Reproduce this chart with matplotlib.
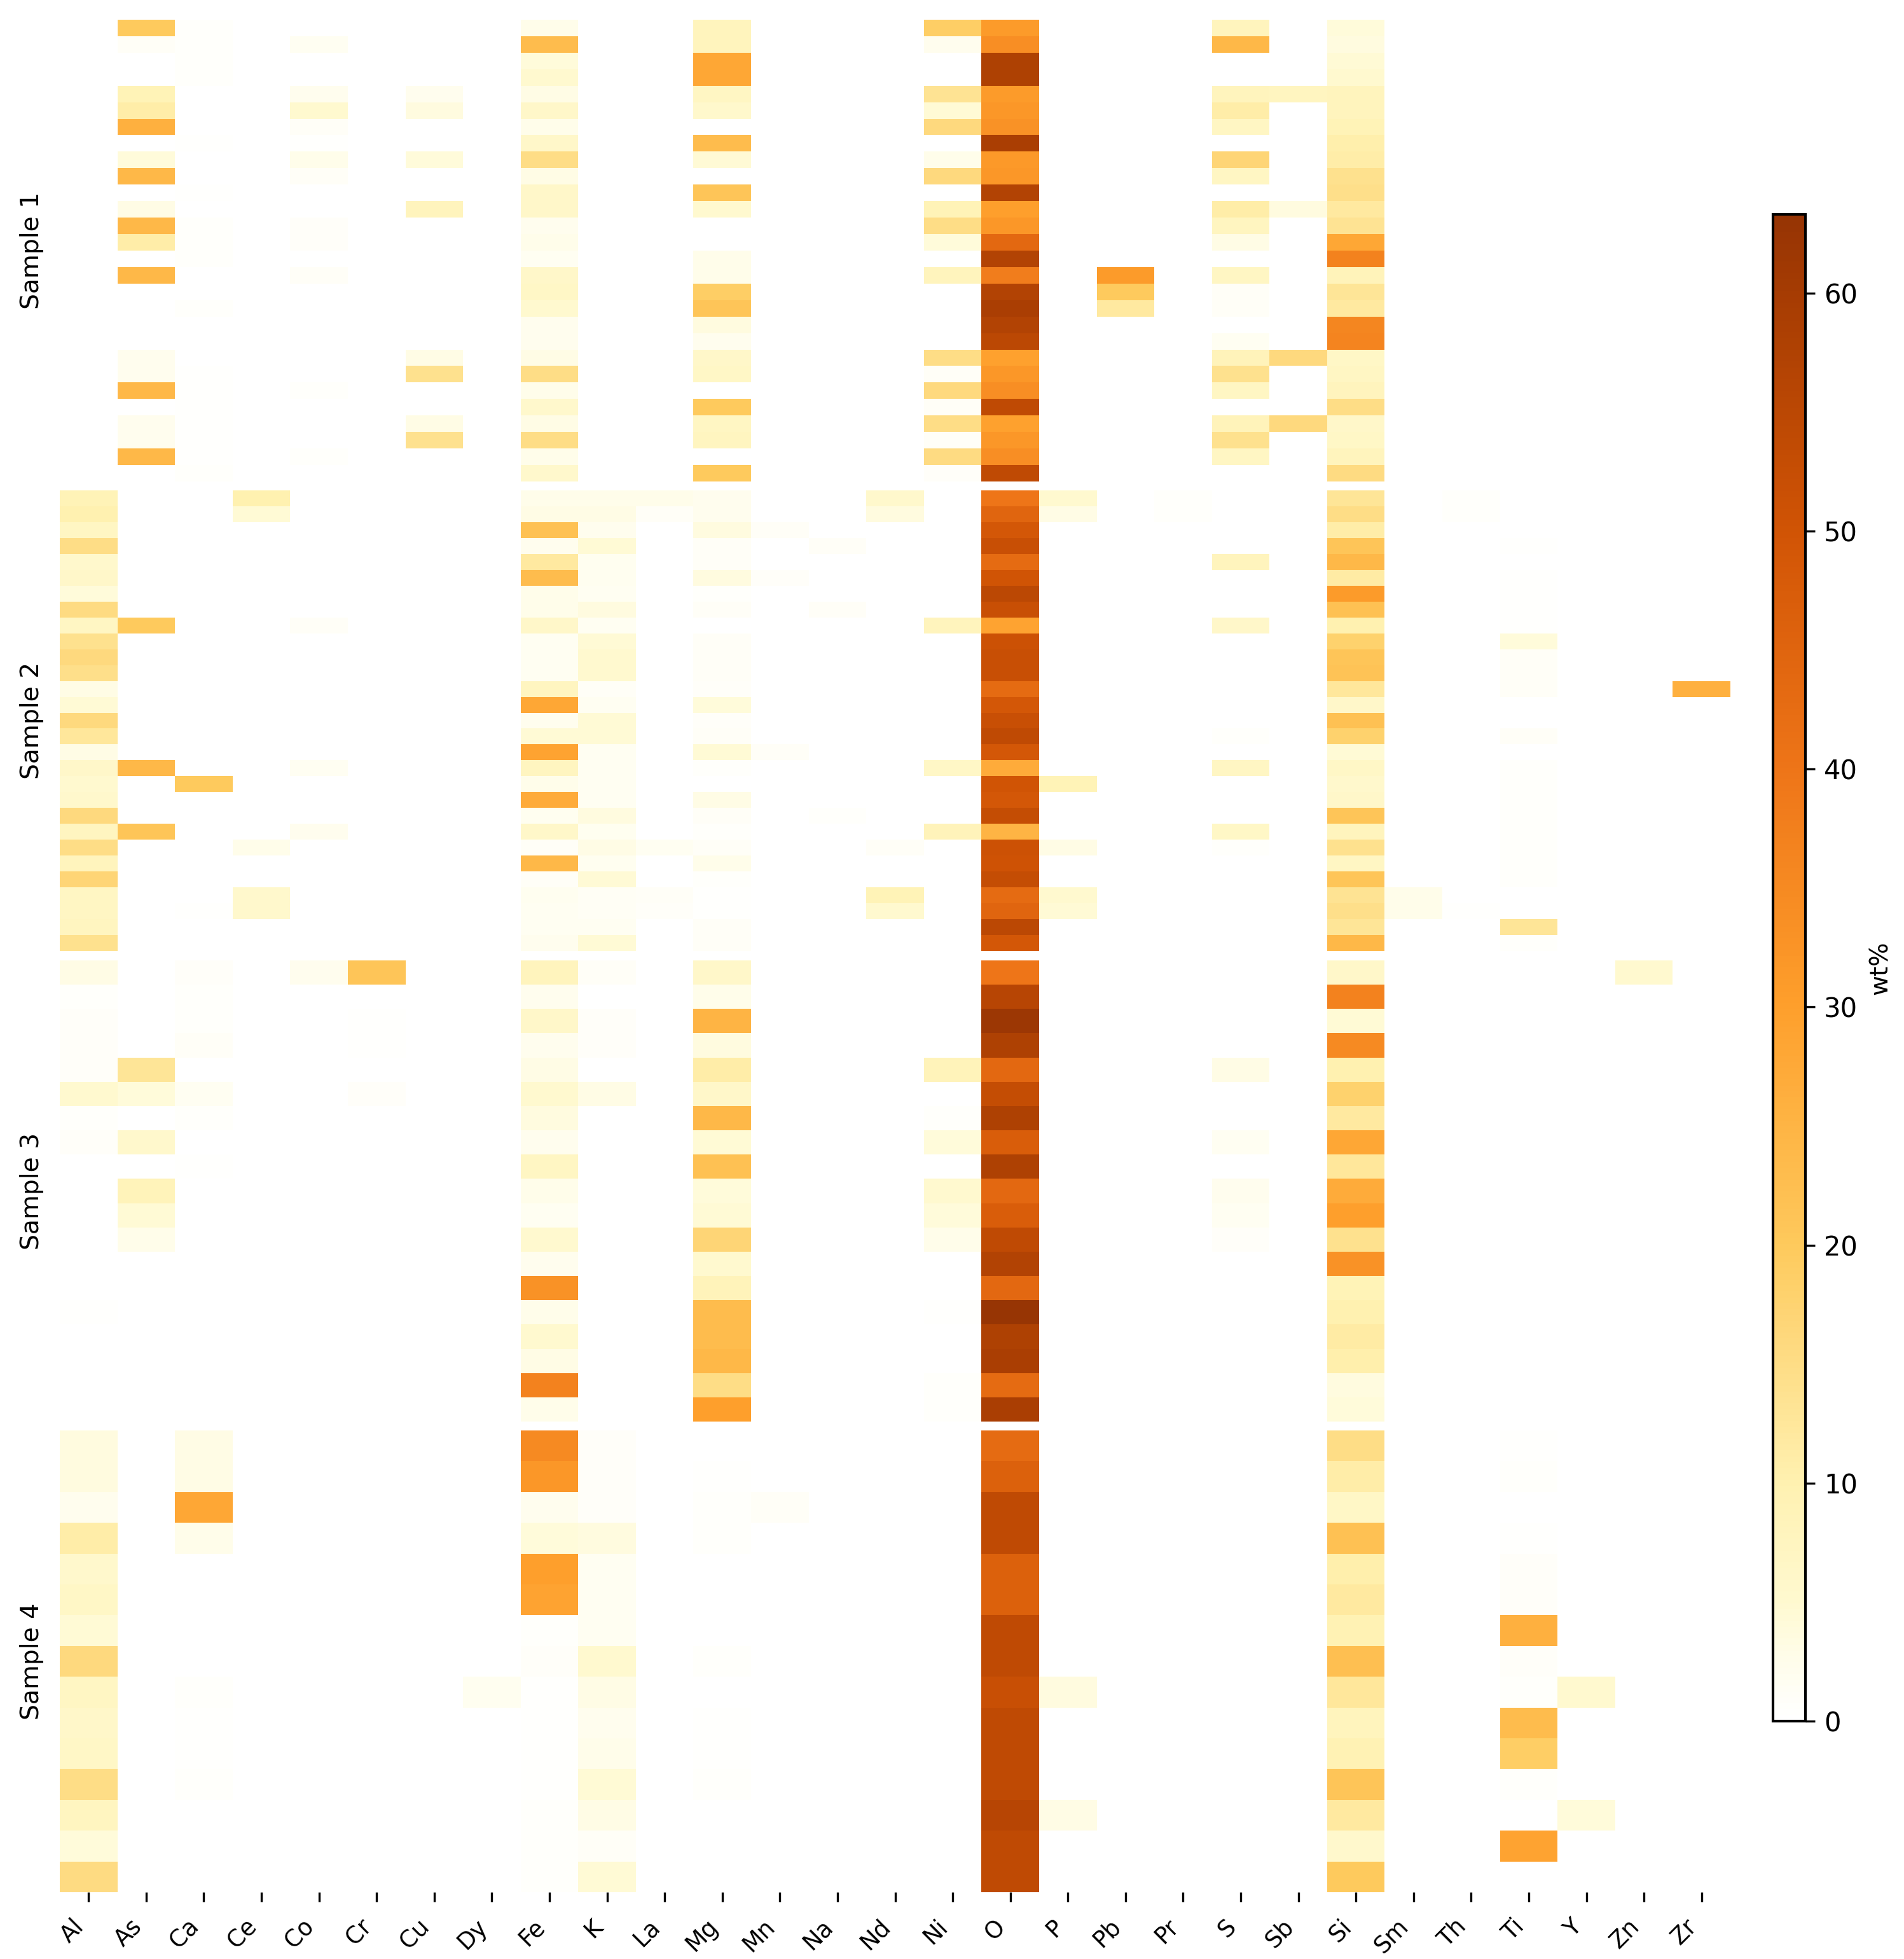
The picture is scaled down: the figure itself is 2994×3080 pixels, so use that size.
import numpy as np
import matplotlib
matplotlib.use('Agg')
import matplotlib.pyplot as plt
from matplotlib.colors import LinearSegmentedColormap

elements = ['Al', 'As', 'Ca', 'Ce', 'Co', 'Cr', 'Cu', 'Dy', 'Fe', 'K', 'La', 'Mg', 'Mn', 'Na', 'Nd',
            'Ni', 'O', 'P', 'Pb', 'Pr', 'S', 'Sb', 'Si', 'Sm', 'Th', 'Ti', 'Y', 'Zn', 'Zr']
sample_names = ['Sample 1', 'Sample 2', 'Sample 3', 'Sample 4']
sample_rows = [28, 29, 19, 15]
cbar_ticks = [0, 10, 20, 30, 40, 50, 60]
vmax = 63.3

# wt%; sparse columns are {row: value}, everything else is 0
s1_as = {0: 20, 1: 1, 4: 9, 5: 11, 6: 26, 8: 4, 9: 24, 11: 3, 12: 24, 13: 11, 15: 24,
         20: 2, 21: 2, 22: 24, 24: 2, 25: 2, 26: 24}
s1_ca = {0: .6, 1: .6, 2: .6, 3: .6, 7: .3, 10: .3, 12: .6, 13: .6, 14: .5, 17: .6,
         21: .3, 22: .3, 23: .4, 24: .3, 25: .3, 26: .4, 27: .6}
s1_co = {1: 1.5, 4: 2, 5: 5, 6: 1, 7: .3, 8: 2.5, 9: 1, 12: .8, 13: .8, 15: 1, 22: .6, 26: .6}
s1_cu = {4: 2, 5: 3.5, 8: 4, 11: 8, 20: 3, 21: 14, 24: 3, 25: 14}
s1_fe = [2.5, 23, 4, 5, 3, 6, 2.5, 6, 15, 3, 6, 6, 2, 2.5, 1.5, 6, 6.5, 5, 2, 2, 3, 15, 2.5, 5.5, 3, 15, 2.5, 5.5]
s1_mg = [8, 8, 28, 28, 7, 5.5, 0, 23, 4.5, 0, 21, 5, 0, 0, 2.5, 2.5, 19, 21, 3.5, 2, 6, 6.5, 0, 20, 7, 7.5, 0, 20]
s1_ni = [19, 2, 0, 0, 13.5, 4.5, 16, 0, 2.5, 16, 0, 9, 15, 4, 0, 8, 0, 0, 0, 0, 15, 1, 16, 1, 15, 1, 15.5, .8]
s1_o = [31, 34, 58, 58, 31, 32, 33, 59, 31.5, 32, 57, 30, 32, 44, 57, 38, 57, 59, 57, 55, 29.5, 32, 34, 54, 29.5, 32, 34, 54]
s1_pb = {15: 31, 16: 20, 17: 12}
s1_s = [8, 24, 0, 0, 8, 11, 7, 0, 17, 7, 0, 11, 7.5, 3, 0, 7, 1, 1, 0, 1.5, 8.5, 14, 7, 0, 8.5, 14, 7, 0]
s1_sb = {4: 7.5, 11: 3.5, 20: 16, 24: 16}
s1_si = [4, 3.5, 4.5, 5, 8, 8, 9, 10.5, 11, 14, 14.5, 12, 13.5, 28, 37, 8.5, 13, 12, 36, 36.5, 6.5, 7, 8, 15, 6, 6.5, 8, 15.5]

s2_al = [9, 10, 7, 15, 5.5, 6, 4, 15.5, 7, 14, 16, 14.5, 3, 4.5, 16, 12.5, 3, 6, 5, 5.5, 16, 7.5, 15, 8, 17, 7, 7, 7.5, 14]
s2_as = {8: 20, 17: 24, 21: 21}
s2_ca = {18: 20, 26: .3}
s2_ce = {0: 10, 1: 4.5, 22: 2.5, 25: 5.5, 26: 5.5}
s2_co = {8: 1.2, 17: 1.5, 21: 2}
s2_fe = [2.5, 3, 22, 2, 12, 23, 2.5, 2.5, 6, 1.5, 1.5, 1.5, 7.5, 28, 2, 4.5, 29, 7.5, 2.5, 27, 1.8, 6, 1, 24, 1, 1.8, 1.5, 1.5, 2]
s2_k = [2.5, 3, 2, 4.5, 1.8, 1.8, 1.5, 3.5, 1.5, 4.5, 5, 5, 1, 1.5, 4.5, 4.5, 1.5, 1.5, 1.5, 1.5, 3.5, 1.8, 3, 1.8, 4.5, 1.3, 1.3, 1.5, 4.5]
s2_la = {0: 2.5, 1: 1, 22: 1.5, 25: 1.2, 26: .8}
s2_mg = [2, 2, 3.5, 1, 1, 3.5, .6, 1.2, 0, 1, 1, 1, .8, 4, .8, 1, 4.5, .5, 0, 3, 1, .5, 1, 2.5, .5, .3, .3, 1, 1]
s2_mn = {2: 1, 5: .8, 16: 1}
s2_na = {3: 1, 7: 1, 20: .6}
s2_nd = {0: 5.5, 1: 3.5, 22: 1.2, 25: 9, 26: 5}
s2_ni = {8: 8, 17: 6.5, 21: 8.5}
s2_o = [40, 45, 49, 52, 43, 50, 55, 52, 29, 51, 52, 52, 43, 49, 52, 54, 49, 27, 50, 49, 53, 25, 51, 50.5, 53, 43, 45, 55, 49]
s2_p = {0: 5, 1: 3, 18: 9, 22: 3, 25: 5, 26: 4.5}
s2_pr = {0: .7, 1: .7}
s2_s = {4: 8, 8: 6, 15: .5, 17: 7, 21: 6.5, 22: .6}
s2_si = [13, 15, 11, 21, 24, 11.5, 31, 22, 10, 18, 21, 21.5, 12.5, 6, 22, 18, 4.5, 6.5, 5.5, 6, 21, 8, 14, 7, 21, 13.5, 14.5, 13, 24]
s2_sm = {25: 2.5, 26: 2.5}
s2_th = {0: .7, 1: .7, 26: .4}
s2_ti = {3: .4, 5: .4, 6: .4, 7: .4, 8: .4, 9: 4, 10: 1, 11: 1, 12: 1, 15: 1, 17: .5, 18: .5, 19: .5,
         20: .5, 21: .5, 22: .5, 23: .5, 24: .5, 27: 13, 28: .6}
s2_zr = {12: 26}

s3_al = {0: 3, 1: .7, 2: .8, 3: .8, 4: .8, 5: 5, 6: .5, 7: .8, 14: .3}
s3_as = {4: 13, 5: 4, 7: 5.5, 9: 8.5, 10: 4.5, 11: 2.5}
s3_ca = {0: .8, 1: .5, 2: .5, 3: 1, 5: 1.5, 6: .5, 8: .4}
s3_co = {0: 2}
s3_cr = {0: 21, 2: .4, 3: .4, 5: .8}
s3_fe = [8, 2, 6, 2, 3, 5, 3.5, 2, 7, 2.5, 1.5, 5, 2, 33, 2.5, 5, 3, 37, 2.5]
s3_k = {0: 1, 2: .8, 3: .8, 5: 3}
s3_mg = [6, 2.5, 25, 3.5, 11, 6, 24, 4.5, 22, 4, 4.5, 17, 5, 8.5, 23, 23, 24, 15, 30]
s3_ni = {4: 8.5, 6: .6, 7: 4, 9: 5, 10: 4, 11: 2.5, 14: .4, 17: .6, 18: .6}
s3_o = [40, 56, 62, 58, 44, 53, 58, 47, 58, 44, 47, 54, 57, 44, 63, 58, 59, 43, 59]
s3_s = {4: 3, 7: 1.5, 9: 2, 10: 1.5, 11: .8}
s3_si = [6, 37, 4.5, 35, 10, 18, 12, 28, 12.5, 27, 30, 14, 33, 9, 10, 11.5, 10.5, 3.5, 4]
s3_zn = {0: 5}

s4_al = [3.5, 3.5, 2, 11, 5.5, 6.5, 4.5, 16, 7, 6, 6.5, 15, 7.5, 4, 15.5]
s4_ca = {0: 3, 1: 3, 2: 28, 3: 2.5, 8: .5, 9: .4, 10: .4, 11: .5}
s4_dy = {8: 1.8}
s4_fe = [35, 32, 2, 4, 30, 29, .5, .8, .3, .3, .3, .3, .5, .5, .6]
s4_k = [.8, .8, .8, 3.5, 1.5, 1.5, 1.5, 5, 3, 2, 2.5, 4.5, 3, 1.2, 4.5]
s4_mg = {1: .3, 2: .6, 3: .6, 7: .6, 9: .3, 10: .3, 11: .6}
s4_mn = {2: 1}
s4_o = [43, 46, 54, 54, 46, 46, 54, 54, 52, 54, 54, 54, 56, 54, 54]
s4_p = {8: 3.5, 12: 3}
s4_si = [15, 11, 6.5, 22, 10.5, 12, 9.5, 22.5, 12.5, 8, 9.5, 21, 12, 5.5, 20]
s4_ti = {0: .3, 1: .6, 3: .3, 4: .8, 5: .8, 6: 26, 7: .8, 8: .7, 9: 23, 10: 19, 11: .6, 13: 29, 14: .2}
s4_y = {8: 5, 12: 4}

sample_cols = [
    {'As': s1_as, 'Ca': s1_ca, 'Co': s1_co, 'Cu': s1_cu, 'Fe': s1_fe, 'Mg': s1_mg, 'Ni': s1_ni, 'O': s1_o,
     'Pb': s1_pb, 'S': s1_s, 'Sb': s1_sb, 'Si': s1_si},
    {'Al': s2_al, 'As': s2_as, 'Ca': s2_ca, 'Ce': s2_ce, 'Co': s2_co, 'Fe': s2_fe, 'K': s2_k, 'La': s2_la,
     'Mg': s2_mg, 'Mn': s2_mn, 'Na': s2_na, 'Nd': s2_nd, 'Ni': s2_ni, 'O': s2_o, 'P': s2_p, 'Pr': s2_pr,
     'S': s2_s, 'Si': s2_si, 'Sm': s2_sm, 'Th': s2_th, 'Ti': s2_ti, 'Zr': s2_zr},
    {'Al': s3_al, 'As': s3_as, 'Ca': s3_ca, 'Co': s3_co, 'Cr': s3_cr, 'Fe': s3_fe, 'K': s3_k, 'Mg': s3_mg,
     'Ni': s3_ni, 'O': s3_o, 'S': s3_s, 'Si': s3_si, 'Zn': s3_zn},
    {'Al': s4_al, 'Ca': s4_ca, 'Dy': s4_dy, 'Fe': s4_fe, 'K': s4_k, 'Mg': s4_mg, 'Mn': s4_mn, 'O': s4_o,
     'P': s4_p, 'Si': s4_si, 'Ti': s4_ti, 'Y': s4_y},
]


def build_matrix(cols, n_rows):
    matrix = np.zeros((n_rows, len(elements)))
    for name, values in cols.items():
        j = elements.index(name)
        if isinstance(values, dict):
            for i, v in values.items():
                matrix[i, j] = v
        else:
            matrix[:, j] = values
    return matrix


# colour scale picked from the colourbar in the reference
anchors = [(0, '#ffffff'), (2.5, '#fffdea'), (5, '#fff9cf'), (10, '#fff1b0'), (15, '#fedd85'),
           (20, '#fec95c'), (30, '#fe9f2c'), (40, '#ee7518'), (50, '#d15405'), (60, '#a63c03'),
           (vmax, '#963404')]
cmap = LinearSegmentedColormap.from_list('wt', [(v / vmax, c) for v, c in anchors], N=256)

W, H = 2994, 3080
fig = plt.figure(figsize=(W / 300, H / 300), dpi=300)


def px_axes(x0, y0, x1, y1):
    return fig.add_axes([x0 / W, 1 - y1 / H, (x1 - x0) / W, (y1 - y0) / H])


spans = [(31, 757), (771, 1495), (1510, 2235), (2249, 2975)]
mesh = None
for k, (y0, y1) in enumerate(spans):
    ax = px_axes(94, y0, 2721, y1)
    data = build_matrix(sample_cols[k], sample_rows[k])
    mesh = ax.pcolormesh(data, cmap=cmap, vmin=0, vmax=vmax, linewidth=0, antialiased=False)
    ax.invert_yaxis()
    for side in ax.spines:
        ax.spines[side].set_visible(False)
    ax.set_yticks([])
    ax.set_ylabel(sample_names[k], fontsize=9.4)
    ax.yaxis.set_label_coords(-0.0097, 0.5)
    if k == 3:
        ax.set_xticks(np.arange(len(elements)) + 0.5)
        ax.set_xticklabels(elements, rotation=45, ha='right', fontsize=8.8)
        ax.tick_params(axis='x', length=3.5, width=0.8, pad=5)
    else:
        ax.set_xticks([])

cax = px_axes(2788, 337, 2839, 2706)
cbar = fig.colorbar(mesh, cax=cax)
cbar.set_ticks(cbar_ticks)
cbar.ax.tick_params(labelsize=10, length=3.5, width=0.8)
cbar.outline.set_linewidth(1.0)
cbar.set_label('wt%', fontsize=9.4, labelpad=4)

fig.savefig('out.png', dpi=300, facecolor='white')
